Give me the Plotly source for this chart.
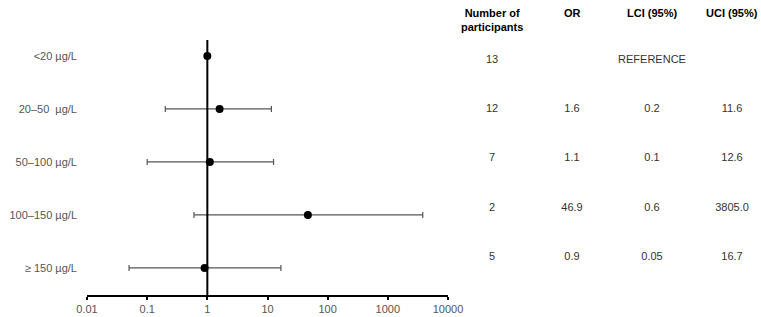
import plotly.graph_objects as go

categories = ["<20 µg/L", "20–50  µg/L", "50–100 µg/L", "100–150 µg/L", "≥ 150 µg/L"]
participants = [13, 12, 7, 2, 5]
odds_ratio = [1.0, 1.6, 1.1, 46.9, 0.9]
lci = [None, 0.2, 0.1, 0.6, 0.05]
uci = [None, 11.6, 12.6, 3805.0, 16.7]
x_ticks = [0.01, 0.1, 1, 10, 100, 1000, 10000]
x_ticktext = ["0.01", "0.1", "1", "10", "100", "1000", "10000"]
table_columns = ["Number of<br>participants", "OR", "LCI (95%)", "UCI (95%)"]

err_plus = [None if u is None else u - o for u, o in zip(uci, odds_ratio)]
err_minus = [None if l is None else o - l for l, o in zip(lci, odds_ratio)]

fig = go.Figure()

fig.add_trace(go.Scatter(
    x=odds_ratio, y=categories, mode="markers",
    marker=dict(color="black", size=8),
    error_x=dict(type="data", symmetric=False, array=err_plus, arrayminus=err_minus,
                 color="#555555", thickness=1.2, width=3),
    xaxis="x", yaxis="y", showlegend=False, hoverinfo="skip",
))

rows = list(range(len(categories)))
col_n = [str(p) for p in participants]
col_or = ["" if l is None else f"{o:.1f}" for o, l in zip(odds_ratio, lci)]
col_lci = ["REFERENCE" if l is None else str(l) for l in lci]
col_uci = ["" if u is None else f"{u:.1f}" for u in uci]
for col, vals in zip(table_columns, [col_n, col_or, col_lci, col_uci]):
    fig.add_trace(go.Scatter(
        x=[col] * len(vals), y=rows, mode="text", text=vals,
        textfont=dict(family="Liberation Sans, Arial", size=11, color="#333333"),
        xaxis="x2", yaxis="y2", showlegend=False, hoverinfo="skip",
    ))

W, H = 761, 317
L, R_px, T, B_px = 87, 448, 40, 295
plot_w = W - L

for col in table_columns:
    fig.add_annotation(
        x=col, xref="x2", y=1, yref="paper", yanchor="top", yshift=T - 5,
        text=f"<b>{col}</b>", showarrow=False,
        font=dict(family="Liberation Sans, Arial", size=11, color="black"),
    )

fig.add_shape(type="line", xref="x", yref="paper", x0=1, x1=1, y0=0, y1=1,
              line=dict(color="black", width=2))

fig.update_layout(
    width=W, height=H,
    margin=dict(l=L, r=0, t=T, b=H - B_px, pad=0, autoexpand=False),
    paper_bgcolor="white", plot_bgcolor="white",
    font=dict(family="Liberation Sans, Arial", size=11, color="#555555"),
    xaxis=dict(type="log", range=[-2, 4], domain=[0, (R_px - L) / plot_w],
               tickvals=x_ticks, ticktext=x_ticktext, showgrid=False, zeroline=False,
               showline=True, linecolor="black", linewidth=1.5,
               ticks="outside", ticklen=3, tickcolor="black", tickwidth=1.5,
               tickfont=dict(size=11, color="#555555"), anchor="y", automargin=False),
    yaxis=dict(type="category", categoryarray=categories, range=[4.51, -0.30],
               showgrid=False, zeroline=False, showline=False, ticks="",
               ticklabelstandoff=9, tickfont=dict(size=11, color="#555555"),
               anchor="x", domain=[0, 1], automargin=False),
    xaxis2=dict(type="category", categoryarray=table_columns, range=[-0.5, 3.3],
                domain=[(452 - L) / plot_w, (756 - L) / plot_w],
                showgrid=False, zeroline=False, showline=False, showticklabels=False,
                ticks="", anchor="y2", automargin=False),
    yaxis2=dict(range=[4.77, -0.41], domain=[0, 1], showgrid=False, zeroline=False,
                showline=False, showticklabels=False, ticks="", anchor="x2",
                automargin=False),
)

fig.write_html("out.html", config={"displayModeBar": False},
               post_script="document.body.style.margin='0';document.body.style.overflow='hidden';")
